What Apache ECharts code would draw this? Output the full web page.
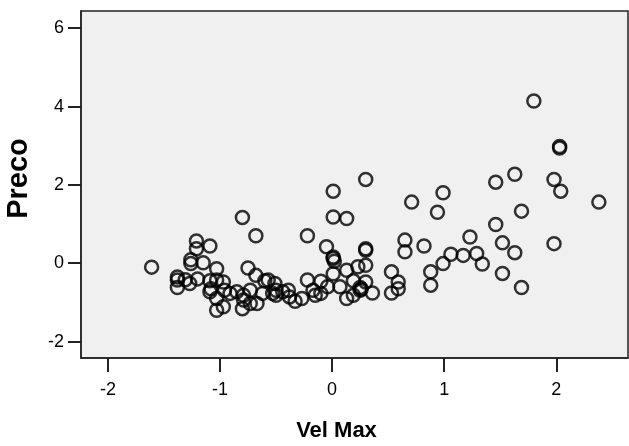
<!DOCTYPE html>
<html>
<head>
<meta charset="utf-8">
<script src="https://cdn.jsdelivr.net/npm/echarts@6/dist/echarts.min.js"></script>
<style>
  html, body { margin: 0; padding: 0; background: #fff; }
  #chart { width: 629px; height: 446px; }
</style>
</head>
<body>
<div id="chart"></div>
<script>
// Scatter of Vel Max vs Preco
var velMax = [
    -1.61, -1.38, -1.38, -1.38, -1.31, -1.27, -1.26, -1.26, -1.21, -1.21,
    -1.20, -1.15, -1.09, -1.09, -1.09, -1.08, -1.03, -1.03, -1.03, -1.03,
    -0.97, -0.96, -0.97, -0.91, -0.85, -0.80, -0.79, -0.79, -0.80, -0.75,
    -0.73, -0.73, -0.68, -0.68, -0.67, -0.62, -0.57, -0.51, -0.50, -0.50,
    -0.53, -0.44, -0.39, -0.38, -0.33, -0.27, -0.22, -0.22, -0.17, -0.15,
    -0.10, -0.10, -0.05, -0.04, 0.01, 0.01, 0.01, 0.01, 0.02, 0.01,
    0.07, 0.13, 0.13, 0.13, 0.19, 0.19, 0.23, 0.25, 0.25, 0.26,
    0.30, 0.30, 0.30, 0.30, 0.30, 0.36, 0.53, 0.53, 0.59, 0.59,
    0.65, 0.65, 0.71, 0.82, 0.88, 0.88, 0.94, 0.99, 0.99, 1.06,
    1.17, 1.23, 1.29, 1.34, 1.46, 1.46, 1.52, 1.52, 1.63, 1.63,
    1.69, 1.69, 1.80, 1.98, 1.98, 2.03, 2.03, 2.04, 2.38, -0.60
];
var preco = [
    -0.10, -0.35, -0.43, -0.62, -0.42, -0.52, 0.09, -0.01, 0.57, 0.37,
    -0.40, 0.01, 0.44, -0.45, -0.73, -0.65, -0.14, -0.43, -0.90, -1.20,
    -0.48, -0.69, -1.11, -0.77, -0.73, 1.17, -0.82, -0.94, -1.16, -0.12,
    -0.69, -1.03, 0.70, -0.31, -1.03, -0.77, -0.43, -0.52, -0.69, -0.82,
    -0.77, -0.73, -0.69, -0.86, -0.97, -0.90, 0.70, -0.43, -0.69, -0.82,
    -0.77, -0.46, 0.42, -0.60, 1.84, 1.18, 0.16, 0.12, 0.05, -0.27,
    -0.60, 1.14, -0.18, -0.90, -0.45, -0.82, -0.09, -0.62, -0.69, -0.66,
    2.14, 0.37, 0.33, -0.05, -0.48, -0.76, -0.22, -0.76, -0.48, -0.65,
    0.59, 0.29, 1.56, 0.44, -0.22, -0.56, 1.30, 1.80, -0.01, 0.23,
    0.20, 0.67, 0.25, -0.02, 2.07, 0.99, 0.52, -0.26, 2.27, 0.27,
    1.33, -0.62, 4.14, 2.14, 0.50, 2.98, 2.94, 1.84, 1.56, -0.45
];
var xTicks = [-2, -1, 0, 1, 2];
var yTicks = [-2, 0, 2, 4, 6];

var points = [];
for (var i = 0; i < velMax.length; i++) {
    points.push([velMax[i], preco[i]]);
}

var myChart = echarts.init(document.getElementById('chart'));
var font = 'Liberation Sans, Arial, sans-serif';

option = {
    animation: false,
    backgroundColor: '#ffffff',
    grid: {
        left: 81, right: 1, top: 11, bottom: 88,
        outerBoundsMode: 'none',
        containLabel: false,
        show: true,
        backgroundColor: '#f0f0f0',
        borderColor: '#222',
        borderWidth: 1.5
    },
    xAxis: {
        type: 'value',
        min: -2.24,
        max: 2.64,
        name: 'Vel Max',
        nameLocation: 'middle',
        nameGap: 62,
        nameTextStyle: { fontFamily: font, fontSize: 22, fontWeight: 'bold', color: '#000', padding: [0, 36, 0, 0] },
        axisLine: { show: true, onZero: false, lineStyle: { color: '#222', width: 1.5 } },
        splitLine: { show: false },
        axisTick: { show: true, length: 14, customValues: xTicks, lineStyle: { color: '#222', width: 2 } },
        axisLabel: { customValues: xTicks, margin: 23, fontFamily: font, fontSize: 18, color: '#000' }
    },
    yAxis: {
        type: 'value',
        min: -2.42,
        max: 6.44,
        name: 'Preco',
        nameLocation: 'middle',
        nameGap: 48,
        nameTextStyle: { fontFamily: font, fontSize: 29, fontWeight: 'bold', color: '#000', padding: [0, 0, 0, 12] },
        axisLine: { show: true, onZero: false, lineStyle: { color: '#222', width: 1.5 } },
        splitLine: { show: false },
        axisTick: { show: true, length: 13, customValues: yTicks, lineStyle: { color: '#222', width: 2 } },
        axisLabel: { customValues: yTicks, margin: 17, fontFamily: font, fontSize: 18, color: '#000' }
    },
    series: [
        {
            type: 'scatter',
            data: points,
            symbol: 'circle',
            symbolSize: 13,
            itemStyle: {
                color: 'rgba(0,0,0,0)',
                borderColor: '#000',
                borderWidth: 2.5
            }
        }
    ]
};
myChart.setOption(option);
</script>
</body>
</html>
